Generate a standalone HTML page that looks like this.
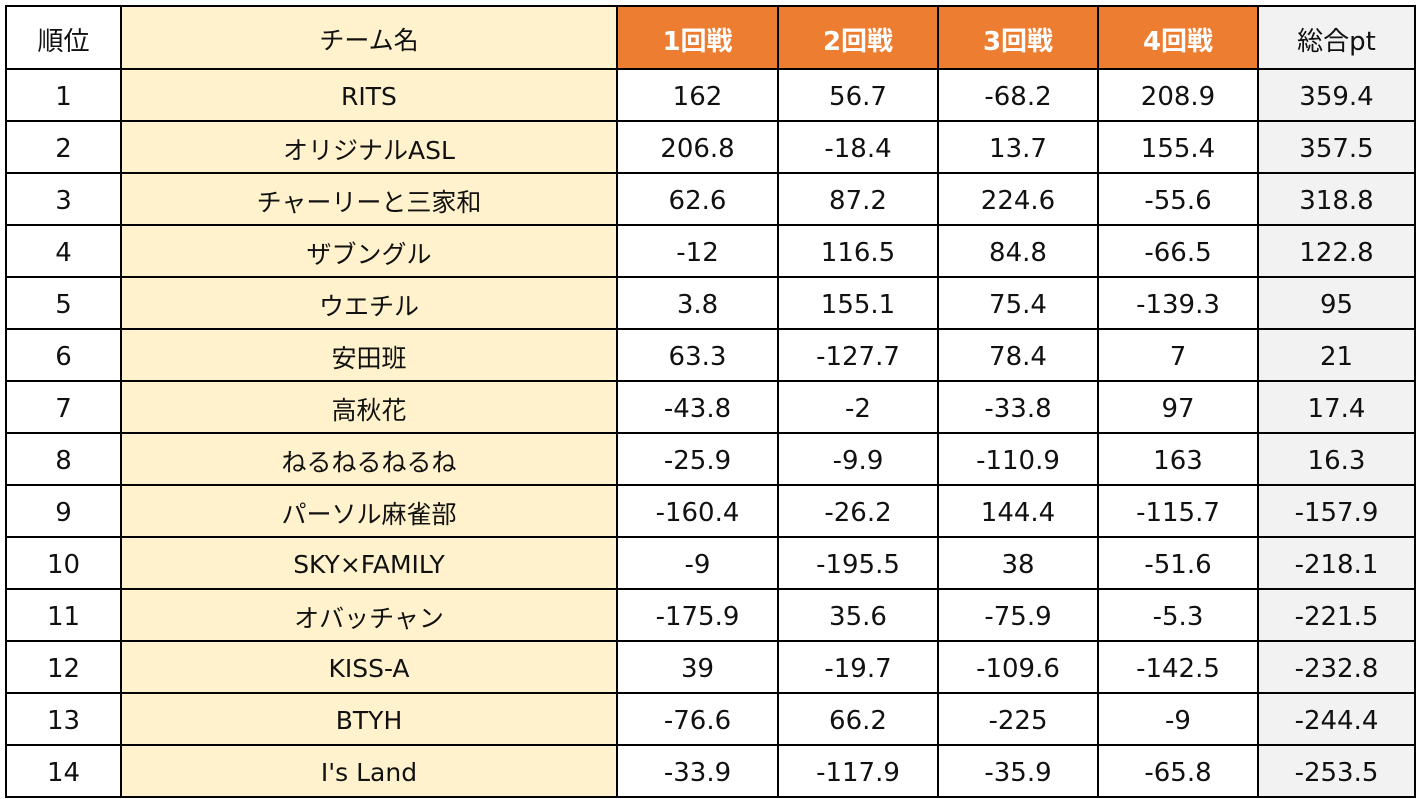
<!DOCTYPE html>
<html><head><meta charset="utf-8"><style>
body{margin:0;width:1422px;height:799px;background:#fff;overflow:hidden;font-family:"DejaVu Sans","Noto Sans CJK JP",sans-serif;}
table{position:absolute;left:5px;top:5px;border-collapse:collapse;table-layout:fixed;}
td{border:2px solid #000;text-align:center;font-size:26px;color:#111;padding:3px 0 0 0;height:47px;white-space:nowrap;}
tr.h td{height:58px;}
td.n{background:#FFF2CC;font-size:25px;}
td.t{background:#F2F2F2;}
tr.h td.o{background:#ED7D31;color:#fff;font-weight:bold;}
</style></head><body>
<table>
<colgroup><col style="width:115px"><col style="width:496px"><col style="width:161px"><col style="width:160px"><col style="width:160px"><col style="width:160px"><col style="width:157px"></colgroup>
<tr class="h"><td>順位</td><td class="n">チーム名</td><td class="o">1回戦</td><td class="o">2回戦</td><td class="o">3回戦</td><td class="o">4回戦</td><td class="t">総合pt</td></tr>
<tr><td>1</td><td class="n">RITS</td><td>162</td><td>56.7</td><td>-68.2</td><td>208.9</td><td class="t">359.4</td></tr>
<tr><td>2</td><td class="n">オリジナルASL</td><td>206.8</td><td>-18.4</td><td>13.7</td><td>155.4</td><td class="t">357.5</td></tr>
<tr><td>3</td><td class="n">チャーリーと三家和</td><td>62.6</td><td>87.2</td><td>224.6</td><td>-55.6</td><td class="t">318.8</td></tr>
<tr><td>4</td><td class="n">ザブングル</td><td>-12</td><td>116.5</td><td>84.8</td><td>-66.5</td><td class="t">122.8</td></tr>
<tr><td>5</td><td class="n">ウエチル</td><td>3.8</td><td>155.1</td><td>75.4</td><td>-139.3</td><td class="t">95</td></tr>
<tr><td>6</td><td class="n">安田班</td><td>63.3</td><td>-127.7</td><td>78.4</td><td>7</td><td class="t">21</td></tr>
<tr><td>7</td><td class="n">高秋花</td><td>-43.8</td><td>-2</td><td>-33.8</td><td>97</td><td class="t">17.4</td></tr>
<tr><td>8</td><td class="n">ねるねるねるね</td><td>-25.9</td><td>-9.9</td><td>-110.9</td><td>163</td><td class="t">16.3</td></tr>
<tr><td>9</td><td class="n">パーソル麻雀部</td><td>-160.4</td><td>-26.2</td><td>144.4</td><td>-115.7</td><td class="t">-157.9</td></tr>
<tr><td>10</td><td class="n">SKY×FAMILY</td><td>-9</td><td>-195.5</td><td>38</td><td>-51.6</td><td class="t">-218.1</td></tr>
<tr><td>11</td><td class="n">オバッチャン</td><td>-175.9</td><td>35.6</td><td>-75.9</td><td>-5.3</td><td class="t">-221.5</td></tr>
<tr><td>12</td><td class="n">KISS-A</td><td>39</td><td>-19.7</td><td>-109.6</td><td>-142.5</td><td class="t">-232.8</td></tr>
<tr><td>13</td><td class="n">BTYH</td><td>-76.6</td><td>66.2</td><td>-225</td><td>-9</td><td class="t">-244.4</td></tr>
<tr><td>14</td><td class="n">I's Land</td><td>-33.9</td><td>-117.9</td><td>-35.9</td><td>-65.8</td><td class="t">-253.5</td></tr>
</table>
</body></html>
